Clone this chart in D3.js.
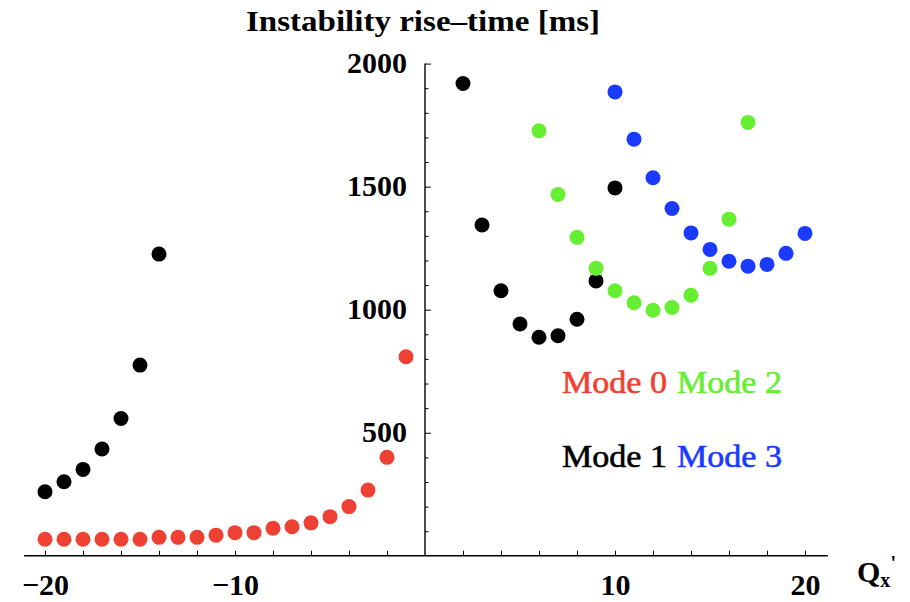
<!DOCTYPE html>
<html>
<head>
<meta charset="utf-8">
<script src="https://cdn.jsdelivr.net/npm/d3@7"></script>
<style>
  body { margin: 0; background: #fff; }
  text { font-family: "Liberation Serif", "Times New Roman", serif; }
</style>
</head>
<body>
<div id="chart"></div>
<script>
// chromaticity Q'x and rise time [ms] per mode
const mode0Q = [-20, -19, -18, -17, -16, -15, -14, -13, -12, -11, -10, -9, -8, -7, -6, -5, -4, -3, -2, -1];
const mode0T = [67, 67, 67, 67, 67, 67, 75, 75, 75, 84, 94, 94, 112, 118, 134, 159, 200, 267, 400, 809];
const mode1Q = [-20, -19, -18, -17, -16, -15, -14, 2, 3, 4, 5, 6, 7, 8, 9, 10];
const mode1T = [260, 301, 351, 434, 558, 775, 1226, 1919, 1344, 1077, 942, 888, 894, 961, 1117, 1495];
const mode2Q = [6, 7, 8, 9, 10, 11, 12, 13, 14, 15, 16, 17];
const mode2T = [1727, 1468, 1294, 1168, 1077, 1028, 998, 1009, 1059, 1168, 1368, 1761];
const mode3Q = [10, 11, 12, 13, 14, 15, 16, 17, 18, 19, 20];
const mode3T = [1885, 1693, 1536, 1411, 1312, 1245, 1197, 1177, 1184, 1229, 1310];

const xTicks = [-20, -18, -16, -14, -12, -10, -8, -6, -4, -2, 2, 4, 6, 8, 10, 12, 14, 16, 18, 20];
const xLabels = [-20, -10, 10, 20];
const yMajor = [500, 1000, 1500, 2000];

const modes = [
  {name: "Mode 0", q: mode0Q, t: mode0T, color: "#ef4133"},
  {name: "Mode 1", q: mode1Q, t: mode1T, color: "#000000"},
  {name: "Mode 2", q: mode2Q, t: mode2T, color: "#66ee33"},
  {name: "Mode 3", q: mode3Q, t: mode3T, color: "#1a3bff"}
];

const w = 910;
const h = 602;

const xScale = d3.scaleLinear().domain([-20, 20]).range([45, 805]);
const yScale = d3.scaleLinear().domain([0, 2000]).range([555.8, 63.6]);

const svg = d3.select("#chart")
  .append("svg")
  .attr("width", w)
  .attr("height", h);

// x axis: ticks point up, labels only on multiples of ten
const xAxis = d3.axisBottom(xScale)
  .tickValues(xTicks)
  .tickSize(-5)
  .tickSizeOuter(0)
  .tickPadding(18)
  .tickFormat(d => xLabels.includes(d) ? d3.format("")(d) : "");

const gx = svg.append("g")
  .attr("transform", "translate(0," + yScale(0) + ")")
  .call(xAxis);
gx.select(".domain").remove();
gx.selectAll("text")
  .style("font-size", "30px")
  .style("font-weight", "bold")
  .attr("fill", "#000");

// y axis: ticks point right, minor every 100
const yAxis = d3.axisLeft(yScale)
  .tickValues(d3.range(100, 2001, 100))
  .tickSize(0)
  .tickPadding(18)
  .tickFormat(d => yMajor.includes(d) ? d : "");

const gy = svg.append("g")
  .attr("transform", "translate(" + xScale(0) + ",0)")
  .call(yAxis);
gy.select(".domain").remove();
gy.selectAll(".tick line")
  .attr("x2", d => yMajor.includes(d) ? 6 : 3.5)
  .attr("stroke", "#000");
gy.selectAll("text")
  .style("font-size", "30px")
  .style("font-weight", "bold")
  .attr("fill", "#000")
  .attr("dy", "0.3em");

// axis lines
svg.append("line")
  .attr("x1", xScale(-21.1)).attr("x2", xScale(21.2))
  .attr("y1", yScale(0)).attr("y2", yScale(0))
  .attr("stroke", "#000").attr("stroke-width", 1.4);
svg.append("line")
  .attr("x1", xScale(0)).attr("x2", xScale(0))
  .attr("y1", yScale(0)).attr("y2", yScale(2000))
  .attr("stroke", "#000").attr("stroke-width", 1.4);

// points
modes.forEach(m => {
  svg.append("g")
    .selectAll("circle")
    .data(m.q.map((q, i) => ({q: q, t: m.t[i]})))
    .enter()
    .append("circle")
    .attr("cx", d => xScale(d.q))
    .attr("cy", d => yScale(d.t))
    .attr("r", 7.5)
    .style("fill", m.color);
});

// title
svg.append("text")
  .attr("x", 246)
  .attr("y", 31)
  .attr("textLength", 354)
  .attr("lengthAdjust", "spacingAndGlyphs")
  .style("font-size", "30px")
  .style("font-weight", "bold")
  .text("Instability rise\u2013time [ms]");

// x axis label Q'x
const ql = svg.append("text")
  .attr("x", 857)
  .attr("y", 582)
  .style("font-size", "30px")
  .style("font-weight", "bold");
ql.append("tspan").text("Q");
ql.append("tspan").attr("dy", 5).style("font-size", "20px").text("x");
ql.append("tspan").attr("dy", -17).style("font-size", "22px").text("'");

// legend
const legendPos = [[562, 393], [562, 467], [677, 393], [677, 467]];
modes.forEach((m, i) => {
  svg.append("text")
    .attr("x", legendPos[i][0])
    .attr("y", legendPos[i][1])
    .attr("textLength", 105)
    .attr("lengthAdjust", "spacingAndGlyphs")
    .style("font-size", "31px")
    .style("fill", m.color)
    .style("stroke", m.color)
    .style("stroke-width", 0.6)
    .text(m.name);
});
</script>
</body>
</html>
